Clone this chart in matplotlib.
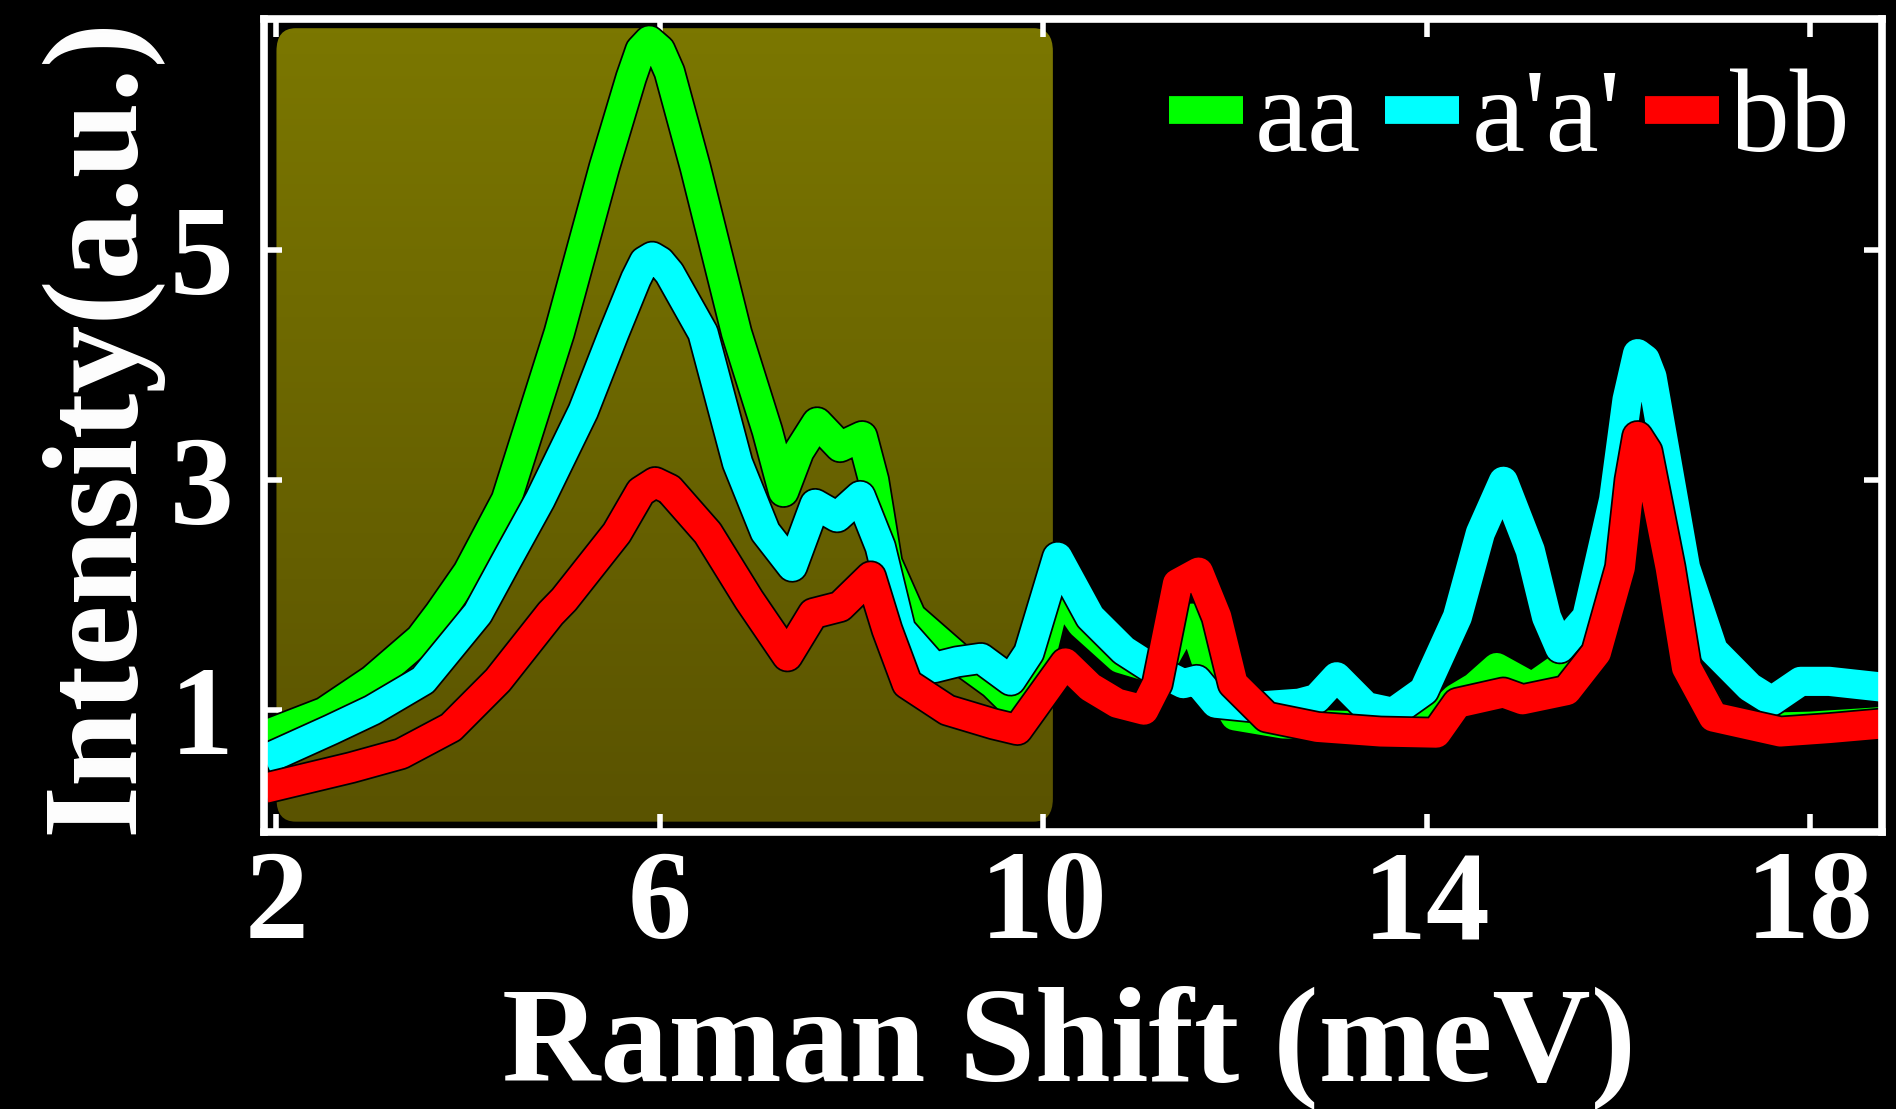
import numpy as np
import matplotlib
matplotlib.use("Agg")
import matplotlib.pyplot as plt
import matplotlib.patheffects as pe
from matplotlib.colors import LinearSegmentedColormap
from matplotlib.lines import Line2D
from matplotlib.patches import FancyBboxPatch

# ---- data (Raman shift in meV, intensity in a.u.) ----
x_aa = [1.88, 2.5, 3.0, 3.5, 3.7, 4.0, 4.4, 4.95, 5.42, 5.7, 5.8, 5.89, 6.0, 6.1, 6.37,
        6.8, 7.12, 7.29, 7.45, 7.64, 7.88, 8.11, 8.23, 8.37, 8.62, 9.1, 9.48, 9.7, 9.9,
        10.15, 10.4, 10.8, 11.2, 11.4, 11.55, 11.75, 12.0, 12.5, 13.0, 13.5, 14.0,
        14.3, 14.5, 14.73, 15.1, 15.46, 15.8, 16.0, 16.2, 16.4, 16.7, 17.0, 17.5,
        18.0, 18.75]
y_aa = [0.78, 0.98, 1.26, 1.62, 1.84, 2.2, 2.83, 4.28, 5.72, 6.5, 6.74, 6.82, 6.74, 6.55,
        5.72, 4.28, 3.43, 2.9, 3.25, 3.5, 3.29, 3.38, 3.0, 2.28, 1.81, 1.46, 1.23, 1.05,
        1.2, 2.05, 1.75, 1.45, 1.35, 1.65, 1.8, 1.3, 0.95, 0.88, 0.87, 0.86, 0.86,
        1.1, 1.2, 1.37, 1.2, 1.41, 1.9, 2.6, 3.3, 2.9, 1.4, 0.95, 0.85,
        0.86, 0.9]

x_apap = [1.88, 2.57, 3.0, 3.53, 4.1, 4.4, 4.75, 5.2, 5.52, 5.75, 5.84, 5.92, 6.0, 6.1,
          6.45, 6.81, 7.1, 7.38, 7.62, 7.85, 8.09, 8.3, 8.51, 8.86, 9.1, 9.35, 9.66,
          9.85, 10.15, 10.49, 10.84, 11.12, 11.46, 11.6, 11.8, 12.16, 12.67, 12.85,
          13.06, 13.37, 13.65, 13.97, 14.32, 14.56, 14.8, 15.08, 15.25, 15.39, 15.67,
          15.95, 16.09, 16.2, 16.28, 16.35, 16.7, 16.99, 17.37, 17.6, 17.9, 18.2, 18.75]
y_apap = [0.57, 0.83, 1.0, 1.26, 1.84, 2.3, 2.83, 3.6, 4.28, 4.75, 4.9, 4.94, 4.9, 4.8,
          4.28, 3.15, 2.55, 2.25, 2.79, 2.68, 2.86, 2.42, 1.70, 1.37, 1.42, 1.45, 1.26,
          1.5, 2.33, 1.81, 1.52, 1.37, 1.23, 1.26, 1.06, 1.03, 1.06, 1.1,
          1.29, 1.03, 0.98, 1.17, 1.81, 2.54, 2.99, 2.39, 1.81, 1.54, 1.81,
          2.83, 3.70, 4.10, 4.05, 3.9, 2.24, 1.52, 1.2, 1.08, 1.25, 1.25, 1.2]

x_bb = [1.88, 2.78, 3.3, 3.82, 4.31, 4.86, 5.0, 5.55, 5.8, 5.95, 6.1, 6.5, 6.93, 7.33,
        7.6, 7.88, 8.2, 8.37, 8.58, 9.0, 9.48, 9.73, 10.23, 10.49, 10.77, 11.05, 11.19,
        11.4, 11.62, 11.81, 11.98, 12.33, 12.86, 13.52, 14.1, 14.32, 14.8, 15.0,
        15.46, 15.77, 16.02, 16.12, 16.2, 16.3, 16.54, 16.71, 16.99, 17.69, 18.2, 18.75]
y_bb = [0.32, 0.5, 0.62, 0.85, 1.26, 1.84, 1.96, 2.54, 2.9, 2.98, 2.92, 2.54, 1.96, 1.47,
        1.84, 1.9, 2.16, 1.70, 1.23, 1.0, 0.88, 0.83, 1.41, 1.2, 1.06, 1.0, 1.23,
        2.1, 2.2, 1.81, 1.23, 0.94, 0.85, 0.81, 0.80, 1.06, 1.15, 1.09,
        1.17, 1.5, 2.24, 3.0, 3.38, 3.25, 2.24, 1.37, 0.94, 0.81, 0.84, 0.88]

series = [("aa", x_aa, y_aa, "#00ff00"),
          ("a'a'", x_apap, y_apap, "#00ffff"),
          ("bb", x_bb, y_bb, "#ff0000")]

x_ticks = [2, 6, 10, 14, 18]
y_ticks = [1, 3, 5]
shade_from, shade_to = 2.0, 10.1

# ---- figure ----
W, H = 1896, 1109
fig = plt.figure(figsize=(W / 100, H / 100), dpi=100, facecolor="black")
ax = fig.add_axes([264 / W, 1 - 832 / H, (1882 - 264) / W, (832 - 19) / H])
ax.set_facecolor("black")
serif = "Liberation Serif"

# olive gradient band with rounded corners
grad = np.linspace(0, 1, 256).reshape(-1, 1)
cmap = LinearSegmentedColormap.from_list("olive", ["#5a5300", "#7b7700"])
im = ax.imshow(grad, extent=[shade_from, shade_to, 0.03, 6.93], origin="lower",
               cmap=cmap, aspect="auto", zorder=0.5, interpolation="bilinear")
box = FancyBboxPatch((shade_from, 0.03), shade_to - shade_from, 6.9,
                     boxstyle="round,pad=0,rounding_size=0.2",
                     transform=ax.transData, facecolor="none", edgecolor="none")
ax.add_patch(box)
im.set_clip_path(box)

lw = 21
for name, xs, ys, c in series:
    ax.plot(xs, ys, color=c, lw=lw, solid_joinstyle="round", solid_capstyle="butt",
            zorder=2, path_effects=[pe.Stroke(linewidth=lw + 2.5, foreground="black"),
                                    pe.Normal()])

ax.set_xlim(1.87, 18.75)
ax.set_ylim(-0.06, 7.01)
ax.set_xticks(x_ticks)
ax.set_yticks(y_ticks)
ax.set_xticklabels([str(t) for t in x_ticks], fontfamily=serif, fontweight="bold",
                   fontsize=92, color="white")
ax.set_yticklabels([str(t) for t in y_ticks], fontfamily=serif, fontweight="bold",
                   fontsize=92, color="white")
ax.tick_params(axis="both", which="major", direction="in", length=13, width=4,
               color="white", top=True, right=True)
ax.tick_params(axis="x", pad=13)
ax.tick_params(axis="y", pad=22)
for s in ax.spines.values():
    s.set_color("white")
    s.set_linewidth(5.5)
    s.set_zorder(5)

fig.text(1069 / W, 1 - 1080 / H, "Raman Shift (meV)", fontfamily=serif,
         fontweight="bold", fontsize=98, color="white", ha="center", va="baseline")
fig.text(100 / W, 1 - 425 / H, "Intensity(a.u.)", fontfamily=serif,
         fontweight="bold", fontsize=98, color="white", rotation=90,
         ha="center", va="center")

handles = [Line2D([], [], color=c, lw=20, solid_capstyle="butt") for _, _, _, c in series]
leg = ax.legend(handles, [s[0] for s in series], ncol=3, frameon=False,
                loc="center right", bbox_to_anchor=(1850 / W, 1 - 122 / H),
                bbox_transform=fig.transFigure, handlelength=0.62,
                handletextpad=0.1, columnspacing=0.2, borderpad=0, borderaxespad=0,
                prop={"family": serif, "size": 86})
for t in leg.get_texts():
    t.set_color("white")

fig.savefig("out.png", dpi=100, facecolor="black")
